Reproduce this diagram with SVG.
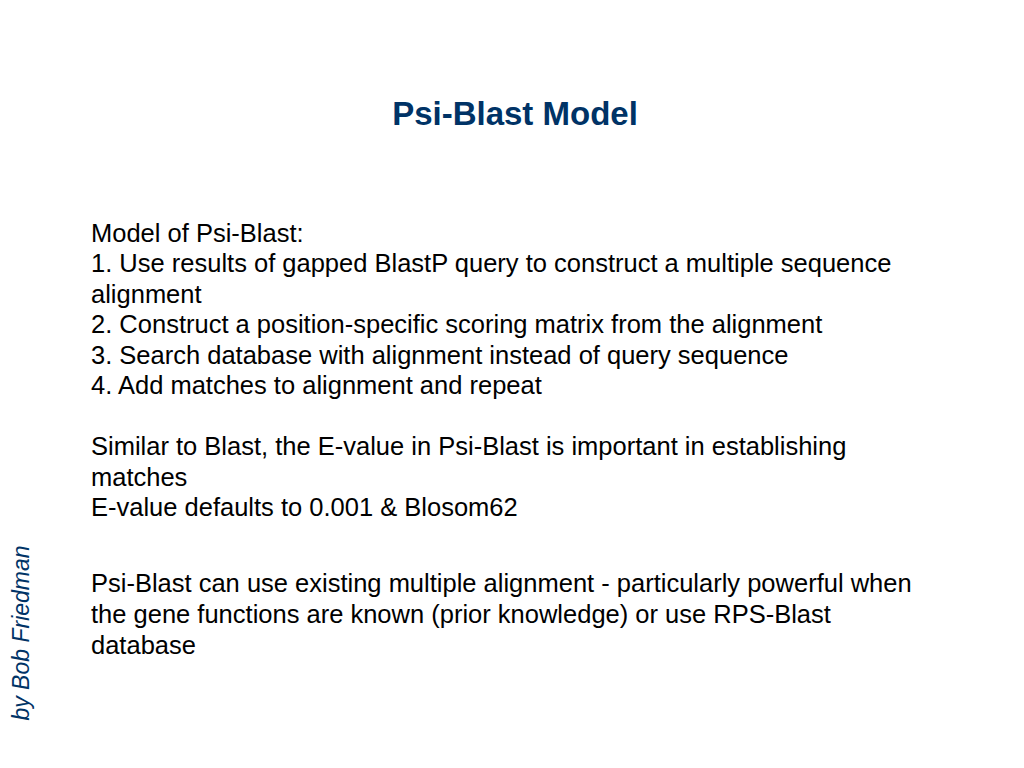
<svg xmlns="http://www.w3.org/2000/svg" width="1024" height="768" viewBox="0 0 1024 768">
<style>
.b{font-family:"Liberation Sans",Arial,sans-serif;font-size:25.5px;fill:#000}
</style>
<rect width="1024" height="768" fill="#fff"/>
<text x="515" y="125" text-anchor="middle" font-family="Liberation Sans,Arial,sans-serif" font-size="33" font-weight="bold" fill="#003366">Psi-Blast Model</text>
<g class="b">
<text x="91" y="242">Model of Psi-Blast:</text>
<text x="91" y="272">1. Use results of gapped BlastP query to construct a multiple sequence</text>
<text x="91" y="303">alignment</text>
<text x="91" y="333">2. Construct a position-specific scoring matrix from the alignment</text>
<text x="91" y="364">3. Search database with alignment instead of query sequence</text>
<text x="91" y="394">4. Add matches to alignment and repeat</text>
<text x="91" y="455">Similar to Blast, the E-value in Psi-Blast is important in establishing</text>
<text x="91" y="486">matches</text>
<text x="91" y="516">E-value defaults to 0.001 &amp; Blosom62</text>
<text x="91" y="592">Psi-Blast can use existing multiple alignment - particularly powerful when</text>
<text x="91" y="623">the gene functions are known (prior knowledge) or use RPS-Blast</text>
<text x="91" y="654">database</text>
</g>
<text transform="translate(29,633) rotate(-90)" text-anchor="middle" font-family="Liberation Sans,Arial,sans-serif" font-size="23" font-style="italic" fill="#003366">by Bob Friedman</text>
</svg>
